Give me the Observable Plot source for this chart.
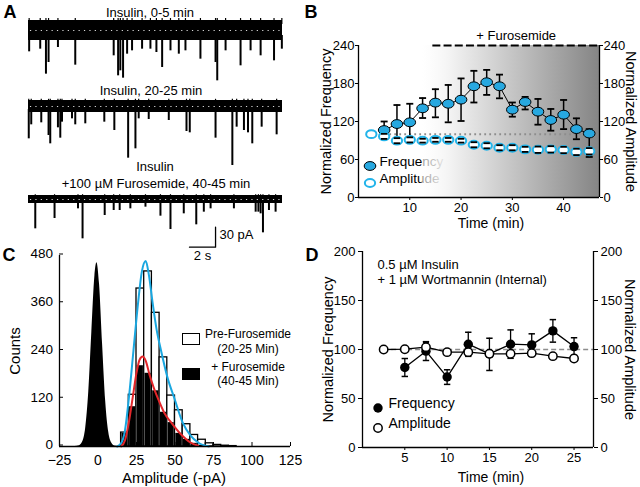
<!DOCTYPE html>
<html><head><meta charset="utf-8">
<script src="https://cdn.jsdelivr.net/npm/d3@7"></script>
<script src="https://cdn.jsdelivr.net/npm/@observablehq/plot@0.6"></script>
<style>
body{margin:0;background:#fff;font-family:"Liberation Sans",Arial,Helvetica,sans-serif;}
#fig{position:relative;width:640px;height:487px;overflow:hidden;background:#fff;}
.p{position:absolute;}
.t{position:absolute;transform:translate(-50%,-50%);white-space:nowrap;line-height:1;color:#000;}
</style></head><body><div id="fig"></div>
<script>
// ---------- Panel A: traces (time s, event amplitude pA) ----------
const traceDuration = 19.5;
const trace1Events = [[0.05,32],[0.9,28],[1.34,65.5],[1.54,48],[2.26,25.5],[3.59,52],[6.54,38],[6.88,68],[7.05,60.5],[7.26,71.5],[7.57,35.5],[7.95,30.5],[8.72,28],[9.36,28],[9.82,33],[10.26,55.5],[10.9,30.5],[11.54,35.5],[12.05,30.5],[13.2,43],[14.36,48],[14.49,75.5],[15.13,30.5],[16.28,53],[17.05,30.5],[17.82,38],[18.85,45.5],[19.45,28]];
const trace2Events = [[0.02,48.5],[0.21,27.5],[0.98,24.5],[1.54,43.5],[1.67,56],[2.26,32],[2.44,47.5],[2.57,23.5],[3.34,18.5],[3.59,27.5],[4.36,26],[5.82,23.5],[6.59,36],[7.65,77.5],[8.21,63.5],[8.46,18.5],[9.23,19.5],[10.77,21],[12.13,37.5],[12.38,39.5],[14.36,47.5],[15.65,88.5],[15.98,31],[16.54,36],[16.85,39.5],[17.18,56],[17.9,31],[19.05,42.5]];
const trace3Events = [[0.52,44],[2.0,28.5],[3.8,14],[4.15,59],[5.85,24],[6.54,16.5],[7.0,16.5],[7.82,14],[8.98,11.5],[10.13,25],[10.9,45],[11.92,21.5],[12.88,38],[13.46,19],[13.98,14],[15.77,14],[17.44,19],[17.65,19],[17.82,21.5],[18.0,50],[18.46,16.5],[18.97,19]];
const noiseHalfWidth = [15, 9, 6];
const traceTitles = ["Insulin, 0-5 min", "Insulin, 20-25 min", "Insulin", "+100 µM Furosemide, 40-45 min"];
const scaleBarSeconds = 2, scaleBarPA = 30;

// ---------- Panel B ----------
const timeB = [5,7.5,10,12.5,15,17.5,20,22.5,25,27.5,30,32.5,35,37.5,40,42.5,45];
const freqB = [106.5,116,118.7,140.8,149.8,148,154.5,175.6,182,175.6,138.7,150.8,135.5,122.4,130.8,108,101];
const freqBHi = [120,146,148,157,171,177.7,188,200,201.5,194,150,158.8,155.6,139.8,154,125,108];
const freqBLo = [95,85,90,125.5,126.6,118.7,120.8,150,162,156.6,127.6,139,115,105.5,108,92,64];
const ampTimeB = [2.5,5,7.5,10,12.5,15,17.5,20,22.5,25,27.5,30,32.5,35,37.5,40,42.5,45];
const ampB = [100,96.5,89.7,91,89.7,91,91,89.7,83.3,81.7,78.6,78.6,76,75.4,76,75,72,73];
const ampBErr = [0,4,4,4,3,3,3,3,4,4,4,4,4,5,5,5,5,5];
const furoStart = 14.5;
const yTicksB = [0,60,120,180,240];
const xTicksB = [10,20,30,40];

// ---------- Panel C ----------
const binStart = [15,20,25,30,35,40,45,50,55,60,65,70,75,80,85];
const binWidth = 5;
const preCounts = [35,130,397,440,336,224,128,91,56,29,17,8,4,2,1];
const furoCounts = [33,100,203,184,140,86,60,33,18,8,3,1,0,0,0];
const noiseAmp = [-15,-12,-10,-8,-6,-4,-2,-0.7,1,3,5,7,9,11,14];
const noiseCounts = [0,2,11,46,137,288,429,462,408,255,113,35,8,1,0];
const preFitAmp = [12.5,15,17.5,20,23,26,28.5,31,33,35.5,38,41,45,49.7,55,60,65,72];
const preFitCounts = [0,8,40,120,240,360,440,466,432,360,295,240,175,120,60,28,10,0];
const furoFitAmp = [15,17.5,20,22.5,25,27,29,31,33.5,36,39,43,47.6,54,60,65];
const furoFitCounts = [0,15,60,122,185,218,226,215,180,150,120,85,60,30,10,2];
const xTicksC = [-25,0,25,50,75,100,125];
const yTicksC = [0,120,240,360,480];

// ---------- Panel D ----------
const timeD = [5,7.5,10,12.5,15,17.5,20,22.5,25];
const freqD = [81.7,98.3,71.9,105.4,95.6,105.4,104.7,119,103];
const freqDHi = [90.8,108,79.3,117.6,111.5,120,116,130.5,112];
const freqDLo = [72.5,88.8,64.4,93,78.6,91,93,107.5,94];
const ampTimeD = [2.5,5,7.5,10,12.5,15,17.5,20,22.5,25];
const ampD = [100,100.3,102.4,97.3,97.3,95.6,95.6,96.3,93.2,90.8];
const ampDErr = [0,1.5,5,2,3,3,2,2,2,2];
const yTicksD = [0,50,100,150,200];
const xTicksD = [5,10,15,20,25];

// ================= helpers =================
const FF = '"Liberation Sans", Arial, Helvetica, sans-serif';
const fig = document.getElementById("fig");
function place(el, left, top) { const d = document.createElement("div"); d.className = "p"; d.style.left = left + "px"; d.style.top = top + "px"; d.appendChild(el); fig.appendChild(d); }
function label(text, x, y, size, extra = "") { const d = document.createElement("div"); d.className = "t"; d.style.left = x + "px"; d.style.top = y + "px"; d.style.fontSize = size + "px"; d.style.cssText += extra; d.textContent = text; fig.appendChild(d); return d; }
const style = {background: "transparent", overflow: "visible", fontFamily: FF, fontSize: "13px", color: "black"};
const cap = {draw(ctx, size) { const w = Math.sqrt(size / Math.PI); ctx.moveTo(-w, 0); ctx.lineTo(w, 0); }};
function ellipse(fx, fy) { return {draw(ctx, size) {
  const r = Math.sqrt(size / Math.PI), rx = r * fx, ry = r * fy, k = 0.5523;
  ctx.moveTo(rx, 0);
  ctx.bezierCurveTo(rx, ry * k, rx * k, ry, 0, ry);
  ctx.bezierCurveTo(-rx * k, ry, -rx, ry * k, -rx, 0);
  ctx.bezierCurveTo(-rx, -ry * k, -rx * k, -ry, 0, -ry);
  ctx.bezierCurveTo(rx * k, -ry, rx, -ry * k, rx, 0);
  ctx.closePath();
}}; }
const ovalB = ellipse(1.12, 0.85);

// ================= Panel A =================
function tracePlot(events, hw, yDomain, height, extra = []) {
  return Plot.plot({
    width: 290, height, marginLeft: 28, marginRight: 8, marginTop: 0, marginBottom: 0,
    style,
    x: {domain: [0, traceDuration], axis: null},
    y: {domain: yDomain, axis: null},
    marks: [
      Plot.rect([hw], {x1: 0, x2: traceDuration, y1: d => -d, y2: d => d, fill: "black"}),
      Plot.ruleX(events, {x: d => d[0], y1: -hw * 0.5, y2: d => -d[1], stroke: "black", strokeWidth: 2}),
      Plot.ruleX(events, {x: d => d[0], y1: hw * 0.6, y2: hw * 1.2, stroke: "black", strokeWidth: 1.2}),
      Plot.ruleY([0], {x1: 0.15, x2: traceDuration - 0.15, stroke: "white", strokeDasharray: "1.2,4.2", strokeWidth: 1.2, strokeOpacity: 0.85}),
      ...extra
    ]
  });
}
place(tracePlot(trace1Events, noiseHalfWidth[0], [-82.5, 22.5], 70), 0, 15);
place(tracePlot(trace2Events, noiseHalfWidth[1], [-96, 16.5], 75), 0, 95);
const sbT = 14.36, sbY = -71.5; // scale-bar anchor in trace units
place(tracePlot(trace3Events, noiseHalfWidth[2], [-96, 16.5], 75, [
  Plot.line([[sbT - scaleBarSeconds, sbY], [sbT, sbY], [sbT, sbY + scaleBarPA]], {stroke: "black", strokeWidth: 1.3}),
  Plot.text([`${scaleBarPA} pA`], {x: sbT, y: sbY + scaleBarPA / 2, dx: 4, dy: -2, textAnchor: "start", fontSize: 13}),
  Plot.text([`${scaleBarSeconds} s`], {x: sbT - scaleBarSeconds / 2, y: sbY, dy: 8.5, fontSize: 13})
]), 0, 188);
label(traceTitles[0], 150, 11.5, 13);
label(traceTitles[1], 151, 90, 13);
label(traceTitles[2], 155, 166, 13);
label(traceTitles[3], 156, 183, 13);

// ================= Panel B =================
const xEndB = 47;
const bFreq = timeB.map((t, i) => ({t, v: freqB[i], lo: freqBLo[i], hi: freqBHi[i]}));
const bAmp = ampTimeB.map((t, i) => ({t, v: ampB[i], lo: ampB[i] - ampBErr[i], hi: ampB[i] + ampBErr[i]}));
function gradDefs() {
  return () => {
    const defs = document.createElementNS("http://www.w3.org/2000/svg", "defs");
    defs.innerHTML = '<linearGradient id="furoGrad" x1="0" x2="1" y1="0" y2="0"><stop offset="0" stop-color="#ffffff" stop-opacity="0.6"/><stop offset="0.15" stop-color="#f4f4f4" stop-opacity="1"/><stop offset="1" stop-color="#858585" stop-opacity="1"/></linearGradient>';
    return defs;
  };
}
const blue = "#27a8e0", cyan = "#22b4ea";
const plotB = Plot.plot({
  width: 340, height: 220, marginLeft: 58, marginRight: 41, marginTop: 25, marginBottom: 43,
  style,
  x: {domain: [0, xEndB]},
  y: {domain: [0, 240]},
  marks: [
    gradDefs(),
    Plot.dot([0], {frameAnchor: "bottom-left", dx: 11.5, dy: -31.5, r: 5.2, symbol: ovalB, fill: blue, stroke: "black", strokeWidth: 1}),
    Plot.text(["Frequency"], {frameAnchor: "bottom-left", dx: 21, dy: -31.5, textAnchor: "start", fontSize: 13.5}),
    Plot.dot([0], {frameAnchor: "bottom-left", dx: 11.5, dy: -14.5, r: 4.6, symbol: ovalB, fill: "white", stroke: cyan, strokeWidth: 2}),
    Plot.text(["Amplitude"], {frameAnchor: "bottom-left", dx: 21, dy: -14.5, textAnchor: "start", fontSize: 13.5}),
    Plot.rect([0], {x1: 12.5, x2: xEndB, y1: 0, y2: 240, fill: "url(#furoGrad)"}),
    Plot.ruleY([100], {x1: 2.2, x2: xEndB, stroke: "#8d8d8d", strokeDasharray: "1.8,3.2", strokeWidth: 2}),
    Plot.ruleY([240], {x1: furoStart, x2: xEndB, stroke: "black", strokeDasharray: "8,3.2", strokeWidth: 1.8}),
    Plot.text(["+ Furosemide"], {x: (furoStart + xEndB) / 2, y: 240, dy: -10, fontSize: 13}),
    Plot.ruleX([0, xEndB], {stroke: "black", strokeWidth: 1.3}),
    Plot.ruleY([0], {stroke: "black", strokeWidth: 1.3}),
    Plot.axisY({anchor: "left", ticks: yTicksB, tickSize: 3, tickPadding: 1, label: null, fontSize: 13}),
    Plot.axisY({anchor: "right", ticks: yTicksB, tickSize: 3, tickPadding: 1, label: null, fontSize: 13}),
    Plot.axisX({ticks: xTicksB, tickSize: 3, tickPadding: 2, label: null, fontSize: 13}),
    Plot.text(["Time (min)"], {frameAnchor: "bottom", dx: 12, dy: 26, textAnchor: "middle", lineAnchor: "middle", fontSize: 14}),
    Plot.text(["Normalized Frequency"], {frameAnchor: "left", dx: -32, rotate: -90, textAnchor: "middle", lineAnchor: "middle", fontSize: 14.5}),
    Plot.text(["Normalized Amplitude"], {frameAnchor: "right", dx: 31, rotate: 90, textAnchor: "middle", lineAnchor: "middle", fontSize: 14.5}),
    Plot.line(bFreq, {x: "t", y: "v", stroke: "black", strokeWidth: 1}),
    Plot.ruleX(bFreq, {x: "t", y1: "lo", y2: "hi", stroke: "black", strokeWidth: 1.5}),
    Plot.dot(bFreq, {x: "t", y: "lo", symbol: cap, r: 3.5, stroke: "black", fill: "none", strokeWidth: 1.8}),
    Plot.dot(bFreq, {x: "t", y: "hi", symbol: cap, r: 3.5, stroke: "black", fill: "none", strokeWidth: 1.8}),
    Plot.dot(bFreq, {x: "t", y: "v", r: 5.2, symbol: ovalB, fill: blue, stroke: "black", strokeWidth: 1}),
    Plot.dot(bAmp, {x: "t", y: "v", r: 4.6, symbol: ovalB, fill: "white", stroke: cyan, strokeWidth: 2}),
    Plot.dot(bAmp.filter(d => d.hi > d.v), {x: "t", y: "hi", symbol: cap, r: 3.2, stroke: "black", fill: "none", strokeWidth: 1.8}),
    Plot.dot(bAmp.filter(d => d.lo < d.v), {x: "t", y: "lo", symbol: cap, r: 3.2, stroke: "black", fill: "none", strokeWidth: 1.8})
  ]
});
place(plotB, 300, 20);

// ================= Panel C =================
const preBins = binStart.map((x0, i) => ({x0, x1: x0 + binWidth, c: preCounts[i]}));
const furoBins = binStart.map((x0, i) => ({x0, x1: x0 + binWidth, c: furoCounts[i]})).filter(d => d.c > 0);
const noise = noiseAmp.map((a, i) => ({a, c: noiseCounts[i]}));
const preFit = preFitAmp.map((a, i) => ({a, c: preFitCounts[i]}));
const furoFit = furoFitAmp.map((a, i) => ({a, c: furoFitCounts[i]}));
const plotC = Plot.plot({
  width: 310, height: 247, marginLeft: 59, marginRight: 20, marginTop: 15, marginBottom: 41,
  style,
  x: {domain: [-25, 125]},
  y: {domain: [0, 480]},
  marks: [
    Plot.rectY(preBins, {x1: "x0", x2: "x1", y: "c", fill: "white", stroke: "black", strokeWidth: 1.3}),
    Plot.rectY(furoBins, {x1: "x0", x2: "x1", y: "c", fill: "black", insetLeft: 0.8, insetRight: 0.8}),
    Plot.areaY(noise, {x: "a", y: "c", fill: "black", curve: "monotone-x"}),
    Plot.line(preFit, {x: "a", y: "c", stroke: "#1aa7e0", strokeWidth: 2, curve: "monotone-x"}),
    Plot.line(furoFit, {x: "a", y: "c", stroke: "#e3262a", strokeWidth: 2, curve: "monotone-x"}),
    Plot.ruleX([-25], {stroke: "black", strokeWidth: 1.3}),
    Plot.ruleY([0], {stroke: "black", strokeWidth: 1.3}),
    Plot.axisY({ticks: yTicksC, tickSize: -4, tickPadding: 10.5, label: null, fontSize: 13.5, dy: -1.5}),
    Plot.axisX({ticks: xTicksC, tickSize: -4, tickPadding: 12.5, label: null, fontSize: 14}),
    Plot.text(["Amplitude (-pA)"], {frameAnchor: "bottom", dx: -1, dy: 32, textAnchor: "middle", lineAnchor: "middle", fontSize: 15}),
    Plot.text(["Counts"], {frameAnchor: "left", dx: -44, rotate: -90, textAnchor: "middle", lineAnchor: "middle", fontSize: 15})
  ]
});
place(plotC, 0, 240);
// legend C
const box1 = document.createElement("div"); box1.style.cssText = "position:absolute;left:182px;top:333px;width:15.5px;height:10px;border:1.3px solid #000;background:#fff;"; fig.appendChild(box1);
const box2 = document.createElement("div"); box2.style.cssText = "position:absolute;left:182px;top:368px;width:18px;height:12px;background:#000;"; fig.appendChild(box2);
label("Pre-Furosemide", 248, 334, 12);
label("(20-25 Min)", 248, 349, 12);
label("+ Furosemide", 248, 366.5, 12);
label("(40-45 Min)", 248, 381, 12);

// ================= Panel D =================
const xEndD = 27.3;
const dFreq = timeD.map((t, i) => ({t, v: freqD[i], lo: freqDLo[i], hi: freqDHi[i]}));
const dAmp = ampTimeD.map((t, i) => ({t, v: ampD[i], lo: ampD[i] - ampDErr[i], hi: ampD[i] + ampDErr[i]}));
const plotD = Plot.plot({
  width: 340, height: 247, marginLeft: 62, marginRight: 47, marginTop: 11, marginBottom: 40,
  style,
  x: {domain: [0, xEndD]},
  y: {domain: [0, 200]},
  marks: [
    Plot.ruleY([100], {x1: ampTimeD[0], x2: xEndD, stroke: "#8d8d8d", strokeDasharray: "5,3", strokeWidth: 1.5}),
    Plot.ruleX([0, xEndD], {stroke: "black", strokeWidth: 1.3}),
    Plot.ruleY([0], {stroke: "black", strokeWidth: 1.3}),
    Plot.axisY({anchor: "left", ticks: yTicksD, tickSize: 4, tickPadding: 3, label: null, fontSize: 13}),
    Plot.axisY({anchor: "right", ticks: yTicksD, tickSize: 4, tickPadding: 3, label: null, fontSize: 13}),
    Plot.axisX({ticks: xTicksD, tickSize: 3, tickPadding: 2, label: null, fontSize: 13}),
    Plot.text(["Time (min)"], {frameAnchor: "bottom", dx: 13, dy: 30.5, textAnchor: "middle", lineAnchor: "middle", fontSize: 14}),
    Plot.text(["Normalized Frequency"], {frameAnchor: "left", dx: -34, rotate: -90, textAnchor: "middle", lineAnchor: "middle", fontSize: 14.5}),
    Plot.text(["Normalized Amplitude"], {frameAnchor: "right", dx: 36, rotate: 90, textAnchor: "middle", lineAnchor: "middle", fontSize: 14.5}),
    Plot.text(["0.5 µM Insulin\n+ 1 µM Wortmannin (Internal)"], {frameAnchor: "top-left", dx: 15, dy: 8, textAnchor: "start", lineAnchor: "top", lineHeight: 1.08, fontSize: 13}),
    Plot.dot([0], {frameAnchor: "bottom-left", dx: 15.5, dy: -39.5, r: 4.7, fill: "black"}),
    Plot.text(["Frequency"], {frameAnchor: "bottom-left", dx: 26, dy: -39.5, textAnchor: "start", fontSize: 14}),
    Plot.dot([0], {frameAnchor: "bottom-left", dx: 15.5, dy: -19.5, r: 4.2, fill: "white", stroke: "black", strokeWidth: 1.5}),
    Plot.text(["Amplitude"], {frameAnchor: "bottom-left", dx: 26, dy: -19.5, textAnchor: "start", fontSize: 14}),
    Plot.line(dFreq, {x: "t", y: "v", stroke: "black", strokeWidth: 1.3}),
    Plot.ruleX(dFreq, {x: "t", y1: "lo", y2: "hi", stroke: "black", strokeWidth: 1.3}),
    Plot.dot(dFreq, {x: "t", y: "lo", symbol: cap, r: 3.2, stroke: "black", fill: "none", strokeWidth: 1.5}),
    Plot.dot(dFreq, {x: "t", y: "hi", symbol: cap, r: 3.2, stroke: "black", fill: "none", strokeWidth: 1.5}),
    Plot.dot(dFreq, {x: "t", y: "v", r: 4.7, fill: "black"}),
    Plot.line(dAmp, {x: "t", y: "v", stroke: "black", strokeWidth: 1.3}),
    Plot.ruleX(dAmp.filter(d => d.hi > d.v), {x: "t", y1: "lo", y2: "hi", stroke: "black", strokeWidth: 1.3}),
    Plot.dot(dAmp.filter(d => d.hi > d.v), {x: "t", y: "hi", symbol: cap, r: 3, stroke: "black", fill: "none", strokeWidth: 1.5}),
    Plot.dot(dAmp, {x: "t", y: "v", r: 4.2, fill: "white", stroke: "black", strokeWidth: 1.5})
  ]
});
place(plotD, 300, 240);

// panel letters
label("A", 10, 12, 18, "font-weight:bold;");
label("B", 311, 12, 18, "font-weight:bold;");
label("C", 9, 255, 18, "font-weight:bold;");
label("D", 312, 255, 18, "font-weight:bold;");
</script></body></html>
